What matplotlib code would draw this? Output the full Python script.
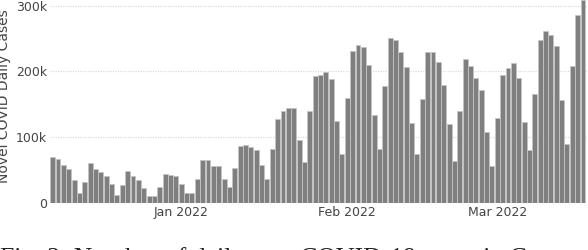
import numpy as np
import pandas as pd
import matplotlib
matplotlib.use("Agg")
import matplotlib.pyplot as plt
import matplotlib.dates as mdates
from matplotlib.ticker import FuncFormatter

# daily new cases (thousands), starting 2021-12-08
start_date = "2021-12-08"
cases_k = [
    69.4, 66.9, 57.8, 51.2, 34.4, 15.7, 31.4,
    60.3, 52.2, 47.1, 41.0, 28.9, 12.2, 26.8,
    48.1, 41.0, 35.0, 22.3, 10.6, 10.6, 24.3,
    43.6, 42.0, 41.5, 29.4, 14.7, 14.7, 36.0,
    64.8, 64.8, 56.2, 56.2, 37.0, 23.8, 53.7,
    86.6, 88.1, 84.6, 80.5, 57.8, 36.0, 82.6,
    127.2, 139.8, 144.4, 144.4, 96.3, 61.8, 139.3,
    193.5, 194.5, 199.1, 187.9, 125.1, 74.5, 159.1,
    231.0, 239.6, 237.1, 209.7, 133.2, 82.6, 177.8,
    250.8, 247.2, 230.0, 206.7, 122.1, 74.0, 158.6,
    229.0, 230.0, 213.8, 178.8, 119.6, 63.8, 139.8,
    218.3, 208.2, 190.0, 171.7, 108.4, 55.7, 129.2,
    194.0, 205.7, 212.8, 190.0, 122.6, 80.0, 166.2,
    247.7, 261.4, 254.8, 238.6, 156.5, 89.2, 208.2,
    285.7, 309.0,
]
y_ticks_k = [0, 100, 200, 300]
caption = "Fig. 2: Number of daily new COVID-19 cases in C"

dates = pd.date_range(start_date, periods=len(cases_k), freq="D")
cases = np.array(cases_k) * 1000

fig = plt.figure(figsize=(5.88, 2.5), dpi=100)
ax = fig.add_axes([50 / 588, 47 / 250, 538 / 588, 203 / 250])

ax.bar(dates, cases, width=0.92, color="#7f7f7f", edgecolor="#c4c4c4",
       linewidth=0.6, zorder=3)

ax.set_xlim(dates[0] - pd.Timedelta(hours=12), dates[0] + pd.Timedelta(days=99.93))
ax.set_ylim(0, 308500)

ax.set_yticks([v * 1000 for v in y_ticks_k])
ax.yaxis.set_major_formatter(FuncFormatter(lambda v, p: "0" if v == 0 else "%dk" % (v / 1000)))
ax.xaxis.set_major_locator(mdates.MonthLocator())
ax.xaxis.set_major_formatter(mdates.DateFormatter("%b %Y"))

ax.grid(axis="y", color="#dddddd", linestyle=(0, (1, 1)), linewidth=0.9, zorder=0)
ax.tick_params(axis="both", length=0, labelsize=9, labelcolor="#444444")
ax.tick_params(axis="y", pad=2)
ax.tick_params(axis="x", pad=2)
for s in ax.spines.values():
    s.set_visible(False)

ax.set_ylabel("Novel COVID Daily Cases", fontsize=10, color="#444444")
ax.yaxis.set_label_coords(-0.072, 0.525)

# caption sitting just below the figure, mostly cut off
fig.text(0.0, 2.5 / 250, caption, fontsize=18.5, family="Liberation Serif",
         color="#222222", ha="left", va="top")

plt.savefig("out.png", dpi=100)
plt.close()
